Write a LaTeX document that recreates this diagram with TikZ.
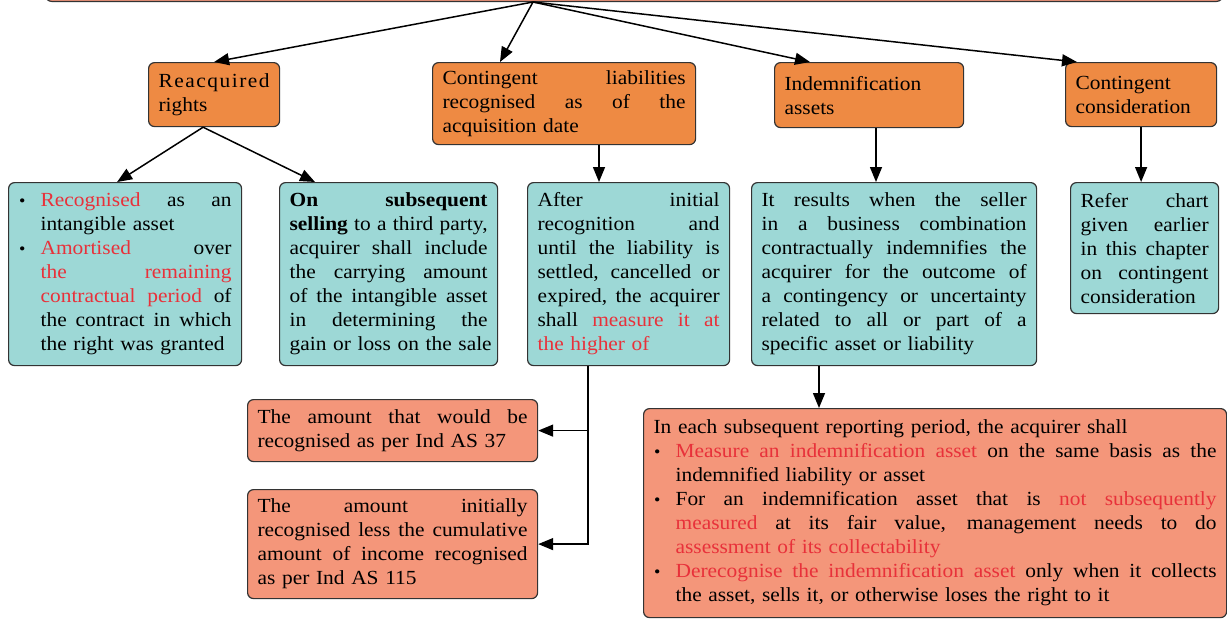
\documentclass[tikz,border=0pt]{standalone}
\usepackage{graphicx}
\usepackage{fontspec}
\setmainfont{Liberation Serif}[FakeStretch=1.07]
\usetikzlibrary{arrows.meta,calc}

\definecolor{boxorange}{HTML}{EE8A43}
\definecolor{boxteal}{HTML}{9DD8D6}
\definecolor{boxsalmon}{HTML}{F4967A}
\definecolor{hilite}{HTML}{E8313A}
\definecolor{edge}{HTML}{333333}

% line-building helpers: justified lines, bullets, hanging indent
\newdimen\colw
\newdimen\bulw \bulw=22pt
\newdimen\restw
\newcommand\bul{\hspace{0.5pt}\scalebox{0.85}{\textbullet}}
\newcommand\itm{\makebox[\bulw][l]{\bul}}
\newcommand\ind{\hspace*{\bulw}}
% full-width line, justified / flush left
\newcommand\fl[1]{{\spaceskip=0pt\xspaceskip=0pt\makebox[\colw][s]{#1}}}
\newcommand\lst[1]{\makebox[\colw][l]{#1}}
% indented line (after a bullet), justified / flush left
\newcommand\jw[1]{{\spaceskip=0pt\xspaceskip=0pt\restw=\colw\advance\restw-\bulw\relax\makebox[\restw][s]{#1}}}
\newcommand\jl[1]{{\restw=\colw\advance\restw-\bulw\relax\makebox[\restw][l]{#1}}}
\newcommand\hl[1]{\textcolor{hilite}{#1}}

\tikzset{
  panel/.style={draw=edge, line width=1.2pt, rounded corners=6pt, anchor=north west,
    inner xsep=10pt, inner ysep=0pt, align=left, text=black,
    font=\fontsize{20}{24}\selectfont},
  tw/.style={text width=#1, execute at begin node={\colw=#1\relax}},
  head/.style={panel, fill=boxorange},
  note/.style={panel, fill=boxteal},
  detail/.style={panel, fill=boxsalmon},
  link/.style={line width=1.5pt, draw=black, -{Triangle[length=15pt,width=12pt]}}
}

\begin{document}
\begin{tikzpicture}[x=1pt,y=-1pt]
\useasboundingbox (0,0) rectangle (1227,619);
\clip (0,0) rectangle (1227,619);

% parent box, running off the top edge
\node[detail, anchor=south west, minimum width=1177pt, minimum height=60pt] (top) at (45,2) {};
\coordinate (hub) at ($(top.south west)+(488,0)$);

% first level
\node[head, tw=111pt, minimum height=64pt] (A) at (148,62)
  {\fl{R\hfill e\hfill a\hfill c\hfill q\hfill u\hfill i\hfill r\hfill e\hfill d}\\ \lst{rights}};
\node[head, tw=243pt, minimum height=82pt] (B) at (432,62)
  {\fl{Contingent liabilities}\\ \fl{recognised as of the}\\ \lst{acquisition date}};
\node[head, tw=169pt, minimum height=65pt] (C) at (774,62)
  {\lst{Indemnification}\\ \lst{assets}};
\node[head, tw=131pt, minimum height=64pt] (D) at (1065,62)
  {\lst{Contingent}\\ \lst{consideration}};

% second level
\node[note, tw=213pt, minimum height=183pt] (E) at (8,182)
  {\itm\jw{\hl{Recognised} as an}\\
   \ind\jl{intangible asset}\\
   \itm\jw{\hl{Amortised} over}\\
   \ind\jw{\hl{the} \hl{remaining}}\\
   \ind\jw{\hl{contractual period} of}\\
   \ind\jw{the contract in which}\\
   \ind\jl{the right was granted}};
\node[note, tw=198pt, minimum height=183pt] (F) at (279,182)
  {\fl{\textbf{On} \textbf{subsequent}}\\
   \fl{\textbf{selling} to a third party,}\\
   \fl{acquirer shall include}\\
   \fl{the carrying amount}\\
   \fl{of the intangible asset}\\
   \fl{in determining the}\\
   \lst{gain or loss on the sale}};
\node[note, tw=182pt, minimum height=183pt] (G) at (527,182)
  {\fl{After initial}\\
   \fl{recognition and}\\
   \fl{until the liability is}\\
   \fl{settled, cancelled or}\\
   \fl{expired, the acquirer}\\
   \fl{shall \hl{measure} \hl{it} \hl{at}}\\
   \lst{\hl{the higher of}}};
\node[note, tw=265pt, minimum height=183pt] (H) at (751,182)
  {\fl{It results when the seller}\\
   \fl{in a business combination}\\
   \fl{contractually indemnifies the}\\
   \fl{acquirer for the outcome of}\\
   \fl{a contingency or uncertainty}\\
   \fl{related to all or part of a}\\
   \lst{specific asset or liability}};
\node[note, tw=128pt, minimum height=131pt] (I) at (1070,182)
  {\fl{Refer chart}\\
   \fl{given earlier}\\
   \fl{in this chapter}\\
   \fl{on contingent}\\
   \lst{consideration}};

% third level
\node[detail, tw=270pt, minimum height=62pt] (J) at (247,399)
  {\fl{The amount that would be}\\
   \lst{recognised as per Ind AS 37}};
\node[detail, tw=270pt, minimum height=109pt] (K) at (247,489)
  {\fl{The amount initially}\\
   \fl{recognised less the cumulative}\\
   \fl{amount of income recognised}\\
   \lst{as per Ind AS 115}};
\node[detail, tw=563pt, minimum height=209pt] (L) at (643,408)
  {\lst{In each subsequent reporting period, the acquirer shall}\\
   \itm\jw{\hl{Measure an indemnification asset} on the same basis as the}\\
   \ind\jl{indemnified liability or asset}\\
   \itm\jw{For an indemnification asset that is \hl{not} \hl{subsequently}}\\
   \ind\jw{\hl{measured} at its fair value, management needs to do}\\
   \ind\jl{\hl{assessment of its collectability}}\\
   \itm\jw{\hl{Derecognise the indemnification asset} only when it collects}\\
   \ind\jl{the asset, sells it, or otherwise loses the right to it}};

% connectors
\draw[link] (hub) -- (A.north);
\draw[link] (hub) -- ($(B.north west)+(68,0)$);
\draw[link] (hub) -- ($(C.north west)+(36,0)$);
\draw[link] (hub) -- ($(D.north west)+(12,0)$);

\coordinate (asplit) at ($(A.south)+(-11,0)$);
\draw[link] (asplit) -- ($(E.north)+(-8,0)$);
\draw[link] (asplit) -- ($(F.north west)+(36,0)$);

\coordinate (gin) at ($(G.north west)+(72,0)$);
\draw[link] (B.south -| gin) -- (gin);
\coordinate (hin) at ($(H.north west)+(125,0)$);
\draw[link] (C.south -| hin) -- (hin);
\draw[link] (D.south) -- (I.north -| D.south);

\coordinate (gout) at ($(G.south west)+(61,0)$);
\draw[link] (gout) |- (J.east);
\draw[link] (gout) |- (K.east);

\coordinate (hout) at ($(H.south west)+(68,0)$);
\draw[link] (hout) -- (L.north -| hout);
\end{tikzpicture}
\end{document}
